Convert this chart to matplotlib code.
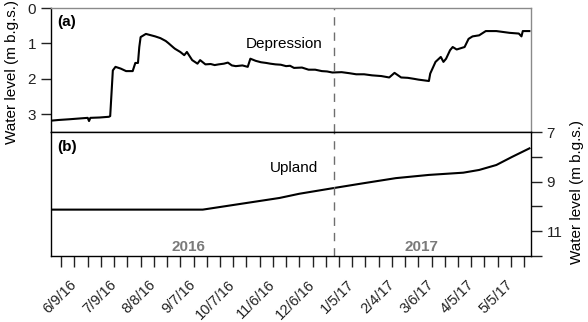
import matplotlib.pyplot as plt
import pandas as pd

plt.rcParams['font.family'] = ['Liberation Sans', 'DejaVu Sans']

# depression well, water level in m below ground surface
dep_dates = ['2016-05-22', '2016-05-28', '2016-06-05', '2016-06-12', '2016-06-19', '2016-06-20',
             '2016-06-21', '2016-06-28', '2016-07-05', '2016-07-06', '2016-07-08', '2016-07-10',
             '2016-07-14', '2016-07-18', '2016-07-23', '2016-07-25', '2016-07-27', '2016-07-28',
             '2016-07-29', '2016-08-02', '2016-08-09', '2016-08-13', '2016-08-17', '2016-08-19',
             '2016-08-23', '2016-08-24', '2016-08-28', '2016-08-31', '2016-09-02', '2016-09-06',
             '2016-09-10', '2016-09-12', '2016-09-16', '2016-09-20', '2016-09-23', '2016-09-26',
             '2016-09-30', '2016-10-03', '2016-10-06', '2016-10-09', '2016-10-14', '2016-10-18',
             '2016-10-20', '2016-10-24', '2016-10-28', '2016-11-01', '2016-11-04', '2016-11-08',
             '2016-11-12', '2016-11-16', '2016-11-19', '2016-11-22', '2016-11-28', '2016-12-03',
             '2016-12-08', '2016-12-13', '2016-12-17', '2016-12-21', '2016-12-28', '2017-01-03',
             '2017-01-08', '2017-01-14', '2017-01-20', '2017-01-27', '2017-02-02', '2017-02-06',
             '2017-02-11', '2017-02-16', '2017-02-21', '2017-02-24', '2017-03-04', '2017-03-05',
             '2017-03-09', '2017-03-13', '2017-03-15', '2017-03-17', '2017-03-20', '2017-03-22',
             '2017-03-25', '2017-03-31', '2017-04-03', '2017-04-06', '2017-04-11', '2017-04-16',
             '2017-04-24', '2017-05-04', '2017-05-11', '2017-05-13', '2017-05-14', '2017-05-19']
dep_level = [3.18, 3.16, 3.14, 3.12, 3.10, 3.19,
             3.10, 3.09, 3.07, 3.05, 1.76, 1.66,
             1.71, 1.78, 1.78, 1.55, 1.55, 1.10,
             0.82, 0.73, 0.80, 0.85, 0.93, 0.99,
             1.12, 1.15, 1.24, 1.33, 1.24, 1.47,
             1.57, 1.47, 1.59, 1.58, 1.61, 1.59,
             1.57, 1.54, 1.62, 1.64, 1.62, 1.66,
             1.43, 1.49, 1.53, 1.55, 1.57, 1.59,
             1.60, 1.64, 1.63, 1.69, 1.68, 1.74,
             1.74, 1.78, 1.79, 1.82, 1.81, 1.84,
             1.87, 1.87, 1.90, 1.92, 1.96, 1.83,
             1.96, 1.97, 2.00, 2.02, 2.06, 1.85,
             1.52, 1.38, 1.52, 1.43, 1.19, 1.10,
             1.17, 1.10, 0.87, 0.80, 0.77, 0.65,
             0.65, 0.70, 0.72, 0.80, 0.65, 0.65]

# upland well
upl_dates = ['2016-05-22', '2016-09-14', '2016-11-11', '2016-11-26', '2016-12-22', '2017-01-13',
             '2017-02-07', '2017-03-04', '2017-03-30', '2017-04-11', '2017-04-24', '2017-05-06',
             '2017-05-19']
upl_level = [10.13, 10.13, 9.66, 9.49, 9.26, 9.07,
             8.86, 8.73, 8.64, 8.53, 8.33, 8.00,
             7.66]

split_date = '2016-12-22'
x_start, x_end = '2016-05-22', '2017-05-20'
tick_start = '2016-05-30'

dep_x = pd.to_datetime(dep_dates)
upl_x = pd.to_datetime(upl_dates)

fig = plt.figure(figsize=(5.88, 3.22), dpi=100)
ax1 = fig.add_axes([0.0862, 0.590, 0.8164, 0.385])
ax2 = fig.add_axes([0.0862, 0.205, 0.8164, 0.385], sharex=ax1)

ax1.plot(dep_x, dep_level, color='black', lw=1.5)
ax1.set_ylim(3.5, 0)
ax1.set_yticks([0, 1, 2, 3])
ax1.tick_params(axis='y', direction='out', length=7, width=1, labelsize=11, colors='#222222')
ax1.tick_params(axis='x', bottom=False, labelbottom=False)
for s in ['top', 'right']:
    ax1.spines[s].set_color('#8a8a8a')
for s in ax1.spines.values():
    s.set_linewidth(1.0)
ax1.spines['left'].set_color('black')
ax1.spines['bottom'].set_color('black')

ax2.plot(upl_x, upl_level, color='black', lw=1.5)
ax2.set_ylim(12, 7)
ax2.yaxis.tick_right()
ax2.set_yticks([7, 8, 9, 10, 11, 12])
ax2.set_yticklabels(['7', '', '9', '', '11', ''])
ax2.tick_params(axis='y', direction='out', length=8, width=1, labelsize=11, colors='#222222')
for s in ax2.spines.values():
    s.set_linewidth(1.0)
    s.set_color('black')

ticks = pd.date_range(tick_start, x_end, freq='10D')
ax2.set_xticks(ticks)
ax2.set_xticklabels([f'{d.month}/{d.day}/{d:%y}' if i % 3 == 1 else '' for i, d in enumerate(ticks)])
ax2.tick_params(axis='x', direction='out', length=8, width=1, labelsize=10.5, pad=11, colors='#222222')
for lab in ax2.get_xticklabels():
    lab.set_rotation(45)
    lab.set_ha('right')
    lab.set_va('center')
    lab.set_rotation_mode('anchor')
ax2.set_xlim(pd.Timestamp(x_start), pd.Timestamp(x_end))

for ax in (ax1, ax2):
    ax.axvline(pd.Timestamp(split_date), color='#6e6e6e', lw=1.0, dashes=(6, 5))

ax1.text(0.013, 0.945, '(a)', transform=ax1.transAxes, fontsize=11, fontweight='bold', va='top')
ax2.text(0.013, 0.935, '(b)', transform=ax2.transAxes, fontsize=11, fontweight='bold', va='top')
ax1.text(0.486, 0.71, 'Depression', transform=ax1.transAxes, fontsize=11, ha='center', va='center')
ax2.text(0.507, 0.71, 'Upland', transform=ax2.transAxes, fontsize=11, ha='center', va='center')
ax2.text(0.286, 0.069, '2016', transform=ax2.transAxes, fontsize=11, fontweight='bold',
         color='#7a7a7a', ha='center', va='center')
ax2.text(0.773, 0.069, '2017', transform=ax2.transAxes, fontsize=11, fontweight='bold',
         color='#7a7a7a', ha='center', va='center')

fig.text(12 / 588, 1 - 72 / 322, 'Water level (m b.g.s.)', rotation=90, fontsize=11,
         ha='center', va='center')
fig.text(577 / 588, 1 - 192 / 322, 'Water level (m b.g.s.)', rotation=90, fontsize=11,
         ha='center', va='center')

fig.savefig('out.png', dpi=100)
